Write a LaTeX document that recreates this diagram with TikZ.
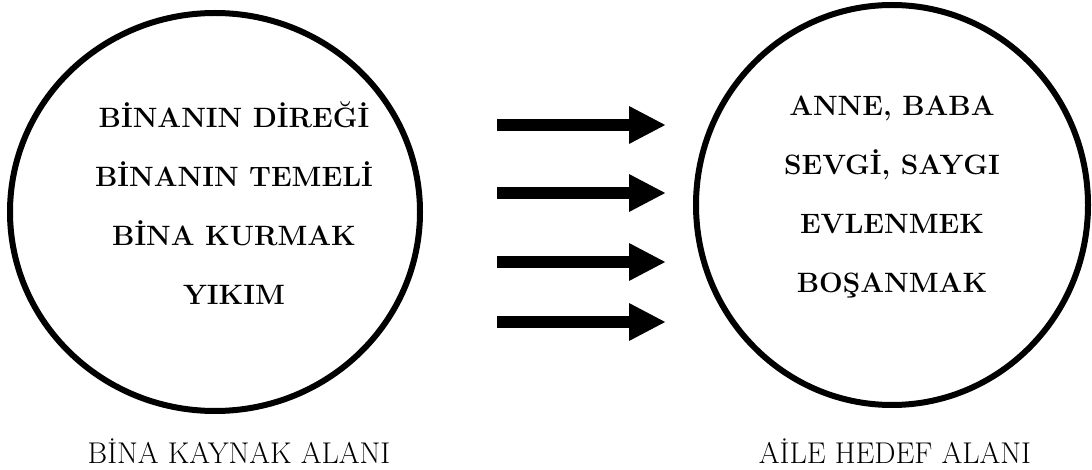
\documentclass[tikz,border=0pt]{standalone}
\usepackage{fontspec}
\usetikzlibrary{positioning,shapes.geometric,arrows.meta}
\tikzset{
	fieldcircle/.style = {draw, ellipse, line width=6pt, inner sep=0pt},
	terms/.style = {align=center, font=\fontsize{28}{59}\selectfont\bfseries},
	caption/.style = {font=\fontsize{30}{34}\selectfont},
	bigarrow/.style = {line width=12pt, -{Triangle[length=37pt,width=35pt]}}
	}

\begin{document}
\begin{tikzpicture}[x=1pt, y=-1pt]
\useasboundingbox (0,0) rectangle (1092,470);

% NODES

% source domain
\node (bina) [fieldcircle, minimum width=410pt, minimum height=398pt] at (215,212) {};
\node (binaterms) [terms] at (234,203) {BİNANIN DİREĞİ\\BİNANIN TEMELİ\\BİNA KURMAK\\YIKIM};
\node (binalabel) [caption] at (239,451) {BİNA KAYNAK ALANI};

% target domain
\node (aile) [fieldcircle, minimum width=392pt, minimum height=400pt] at (892,205) {};
\node (aileterms) [terms] at (892,197) {ANNE, BABA\\SEVGİ, SAYGI\\EVLENMEK\\BOŞANMAK};
\node (ailelabel) [caption] at (895,451) {AİLE HEDEF ALANI};

% CONNECTIONS
\foreach \y [count=\i] in {125,193,262,322} {
	\coordinate (from\i) at (497,\y);
	\coordinate (to\i) at (666,\y);
	\draw [bigarrow] (from\i) -- (to\i);
}

\end{tikzpicture}
\end{document}
